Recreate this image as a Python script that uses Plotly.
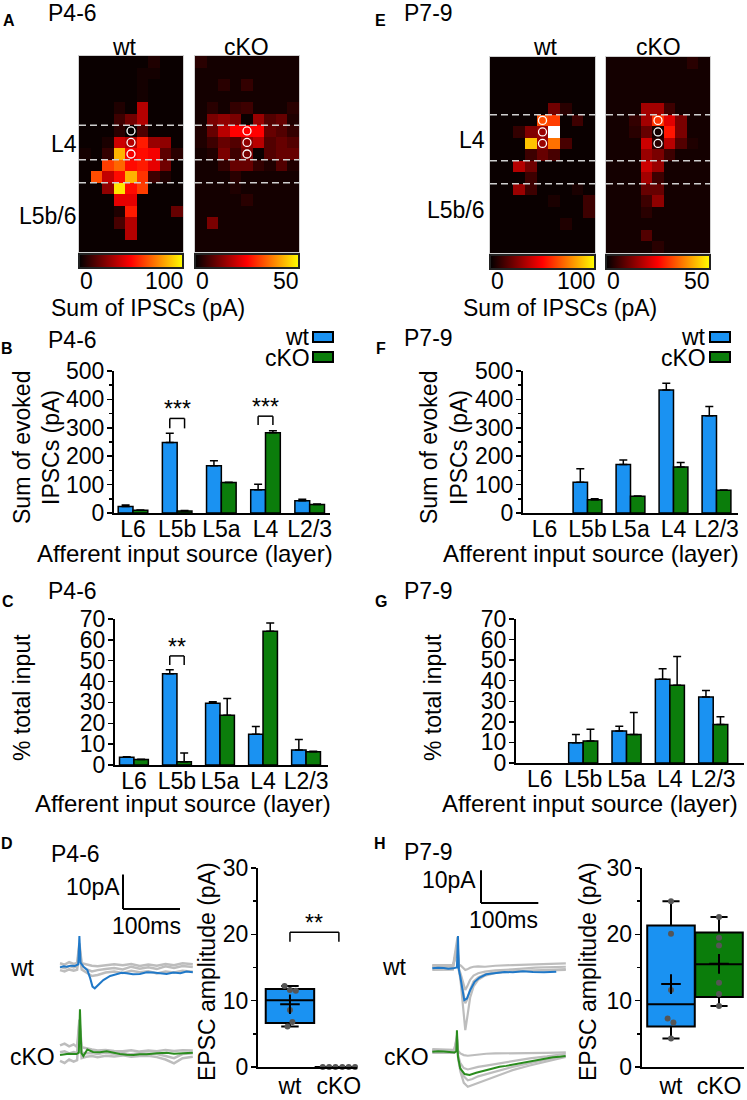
import plotly.graph_objects as go

W, H = 747, 1100
FONT = "Liberation Sans, Arial, Helvetica, sans-serif"
FS = 23
BLUE = "#1a92f2"
GREEN = "#0b7d0b"
TBLUE = "#1f78c8"
TGREEN = "#2a8c1e"
GRAY = "#bdbdbd"
DOT = "#555555"

# ---------------- data ----------------
layers = ["L6", "L5b", "L5a", "L4", "L2/3"]
groups = ["wt", "cKO"]

# heatmaps (17 rows x 9 columns), sum of IPSCs (pA)
hm_A_wt = [
    [2, 2, 2, 2, 2, 2, 6, 2, 2],
    [2, 2, 2, 2, 2, 4, 4, 2, 2],
    [2, 2, 2, 2, 2, 4, 2, 2, 2],
    [2, 2, 2, 2, 2, 4, 2, 2, 2],
    [2, 2, 2, 6, 2, 35, 2, 2, 2],
    [2, 2, 2, 12, 22, 35, 2, 2, 2],
    [2, 2, 2, 8, 1, 15, 2, 2, 2],
    [2, 2, 5, 40, 35, 55, 30, 28, 2],
    [4, 2, 10, 85, 48, 52, 48, 18, 8],
    [2, 2, 62, 70, 52, 55, 45, 22, 2],
    [2, 65, 38, 52, 85, 60, 12, 6, 2],
    [2, 2, 28, 95, 52, 62, 2, 2, 2],
    [2, 2, 2, 45, 45, 2, 2, 2, 2],
    [2, 2, 2, 6, 55, 2, 2, 2, 20],
    [2, 2, 2, 14, 35, 2, 2, 2, 2],
    [2, 2, 2, 2, 35, 2, 2, 2, 2],
    [2, 2, 2, 2, 2, 2, 2, 2, 2],
]
hm_A_ko = [
    [4, 2, 2, 2, 2, 2, 2, 2, 2],
    [2, 2, 2, 2, 2, 2, 2, 2, 2],
    [2, 2, 4, 2, 5, 2, 2, 2, 2],
    [2, 2, 2, 2, 2, 2, 2, 2, 2],
    [2, 4, 2, 5, 6, 2, 2, 2, 4],
    [2, 12, 14, 12, 1, 15, 8, 10, 3],
    [3, 10, 18, 25, 25, 25, 10, 8, 5],
    [3, 6, 10, 8, 14, 18, 8, 10, 8],
    [2, 3, 12, 6, 12, 1, 8, 10, 10],
    [2, 2, 5, 10, 10, 5, 3, 8, 3],
    [2, 2, 2, 4, 2, 2, 2, 2, 2],
    [2, 2, 2, 3, 2, 2, 2, 2, 2],
    [2, 2, 2, 2, 4, 2, 2, 2, 2],
    [2, 2, 2, 2, 2, 2, 2, 2, 2],
    [2, 12, 2, 2, 2, 2, 2, 2, 2],
    [2, 2, 2, 2, 2, 2, 2, 2, 2],
    [2, 2, 2, 2, 2, 2, 2, 2, 2],
]
hm_E_wt = [
    [2, 2, 2, 2, 2, 2, 2, 2, 2],
    [2, 2, 2, 2, 2, 2, 2, 2, 2],
    [2, 2, 2, 2, 2, 2, 2, 2, 2],
    [2, 2, 2, 2, 2, 2, 2, 2, 2],
    [2, 2, 2, 2, 2, 22, 8, 2, 2],
    [2, 2, 2, 2, 65, 62, 2, 12, 2],
    [2, 2, 10, 25, 30, 130, 2, 2, 2],
    [2, 2, 2, 88, 30, 72, 14, 2, 2],
    [2, 2, 2, 12, 20, 14, 2, 2, 2],
    [2, 2, 35, 22, 2, 2, 2, 2, 2],
    [2, 2, 2, 12, 2, 2, 2, 2, 2],
    [2, 2, 30, 12, 2, 2, 2, 5, 2],
    [2, 2, 2, 2, 2, 5, 2, 2, 12],
    [2, 2, 2, 2, 2, 2, 2, 2, 12],
    [2, 2, 2, 2, 2, 2, 6, 2, 2],
    [2, 2, 2, 2, 2, 2, 2, 2, 2],
    [2, 2, 2, 2, 2, 2, 2, 2, 2],
]
hm_E_ko = [
    [2, 2, 2, 2, 2, 2, 2, 4, 2],
    [2, 2, 2, 2, 2, 2, 2, 2, 2],
    [2, 2, 2, 2, 2, 2, 2, 2, 2],
    [2, 2, 2, 2, 2, 2, 2, 2, 2],
    [2, 2, 2, 16, 16, 6, 2, 2, 2],
    [2, 2, 5, 16, 30, 22, 12, 2, 2],
    [2, 2, 4, 10, 2, 27, 12, 2, 2],
    [2, 2, 2, 20, 4, 18, 8, 3, 2],
    [2, 2, 2, 15, 12, 6, 2, 2, 2],
    [2, 2, 2, 20, 15, 2, 2, 2, 2],
    [2, 2, 2, 16, 6, 2, 2, 2, 2],
    [2, 2, 2, 10, 10, 2, 2, 2, 2],
    [2, 2, 2, 6, 14, 2, 2, 2, 2],
    [2, 2, 2, 4, 2, 2, 2, 2, 2],
    [2, 2, 2, 2, 2, 2, 2, 2, 2],
    [2, 2, 2, 8, 2, 2, 2, 2, 2],
    [2, 2, 2, 2, 4, 2, 2, 2, 2],
]
hm_zmax = [100, 50, 100, 50]
stim_col = 4
stim_rows_A = [6, 7, 8]
stim_rows_E = [5, 6, 7]
layer_bounds_A = [5.5, 8.5, 10.5]
layer_bounds_E = [4.5, 8.5, 10.5]

# B / F: sum of evoked IPSCs (pA), mean and SEM
B_wt = [23, 248, 166, 82, 43]
B_wt_err = [5, 33, 18, 19, 5]
B_ko = [10, 7, 107, 283, 30]
B_ko_err = [1, 2, 1, 7, 2]
F_wt = [0, 108, 171, 433, 342]
F_wt_err = [0, 48, 16, 24, 33]
F_ko = [0, 47, 59, 162, 80]
F_ko_err = [0, 3, 1, 16, 1]
# C / G: % total input
C_wt = [3.7, 43.7, 29.6, 14.7, 7.2]
C_wt_err = [0.3, 2.0, 0.7, 3.7, 5.0]
C_ko = [2.6, 1.6, 23.9, 64.1, 6.4]
C_ko_err = [0.2, 4.2, 8.0, 4.0, 0.2]
G_wt = [0, 9.8, 15.6, 40.7, 32.1]
G_wt_err = [0, 4.0, 2.3, 5.1, 3.1]
G_ko = [0, 10.7, 13.8, 37.8, 18.7]
G_ko_err = [0, 5.7, 10.8, 14.0, 3.8]

# D / H: EPSC amplitudes (pA)
D_wt_pts = [12.2, 11.6, 11.5, 8.6, 6.8, 6.1]
D_ko_pts = [0, 0, 0, 0, 0, 0]
H_wt_pts = [25.0, 20.1, 11.6, 7.3, 6.7, 4.3]
H_ko_pts = [22.6, 19.5, 18.3, 12.7, 11.0, 9.2]

# example traces: time (ms), current (pA, relative to baseline)
D_t_wt = [0, 6, 12, 19, 26, 32, 34, 36, 41, 48, 53, 57, 61, 67, 76, 88, 99, 108, 117, 128, 140, 152, 164, 176, 187, 199, 211, 222, 233]
D_wt = [0, 0.3, 0.2, 0.5, 0.4, 0.9, 9.1, 1.4, 0.2, -0.8, -3.2, -5.6, -6.1, -5.1, -3.7, -2.5, -1.9, -1.6, -1.7, -2.0, -1.9, -1.4, -1.5, -1.8, -1.9, -1.5, -1.7, -1.2, -1.4]
D_t_ko = [0, 15, 29, 33, 35, 37.5, 41, 48, 58, 70, 82, 95, 105, 117, 129, 140, 152, 170, 187, 200, 211, 222, 233]
D_ko = [-0.3, 0.1, 0, 0.4, 13, 0.3, -0.6, 1.3, 0.6, 0.5, 0.8, 0.3, 0, -0.2, -0.3, -0.1, -0.1, 0.2, 0.4, 0.1, 0.2, 0.3, 0.4]
D_t_gray = [0, 8, 16, 24, 30, 34, 38, 46, 56, 66, 80, 95, 110, 125, 140, 155, 170, 185, 200, 215, 233]
D_wt_gray = [
    [1.2, 0.8, 1.5, 1.0, 1.3, 7.0, 1.2, 0.8, 0.5, 0.3, 0.5, 0.9, 0.6, 1.0, 0.4, 0.8, 0.5, 1.0, 0.6, 1.2, 0.9],
    [-0.8, -1.2, -0.6, -1.0, -0.7, 5.0, -0.6, -1.5, -2.5, -2.2, -1.5, -1.2, -1.6, -1.0, -1.4, -1.1, -1.8, -1.2, -1.5, -1.0, -1.3],
    [0.2, -0.2, 0.4, 0.0, 0.3, 6.0, 0.5, -0.5, -1.2, -0.8, -0.5, -0.2, -0.6, 0.2, -0.4, 0.0, -0.5, 0.3, -0.2, 0.4, 0.1],
]
D_ko_gray = [
    [2.5, 3.0, 2.2, 2.8, 2.0, 10.0, 2.0, 1.6, 1.3, 1.0, 1.2, 0.9, 0.8, 1.1, 0.7, 1.0, 0.8, 1.2, 0.9, 1.1, 1.0],
    [-2.0, -2.6, -1.6, -2.2, -1.8, 8.0, -1.2, -0.8, -0.6, -0.9, -0.5, -0.7, -0.4, -0.8, -0.6, -0.5, -0.9, -1.6, -2.7, -1.2, -0.8],
    [0.5, 0.8, 0.2, 0.6, 0.3, 9.0, 0.4, 0.2, 0.3, 0.0, 0.4, 0.1, 0.3, -0.1, 0.2, 0.1, 0.0, -0.6, -1.2, 0.0, 0.2],
]
H_t_wt = [0, 10, 20, 28, 36, 43, 44.8, 46.5, 48.8, 52.3, 55.8, 60.5, 66.3, 73.8, 82.6, 94.2, 111.6, 126, 140.7, 158, 175.6, 195, 216.3]
H_wt = [0, 0.2, 0.1, -0.1, 0, 0.3, 9.9, -0.5, -2.5, -6.6, -9.7, -9.2, -6.6, -4.1, -2.8, -1.8, -1.3, -1.1, -1.2, -0.9, -1.1, -1.2, -1.0]
H_t_ko = [0, 10, 20, 30, 39, 42, 43, 44.8, 48.8, 56.4, 65, 76.7, 94.2, 105, 117.4, 129, 140.7, 152, 164, 175, 187.2, 199, 210.5, 222, 232.6]
H_ko = [0, 0.2, 0.1, -0.1, -0.2, 0.2, 6.6, -1.5, -5.1, -6.8, -7.1, -6.4, -5.6, -5.2, -4.6, -4.3, -3.9, -3.6, -3.1, -2.7, -2.3, -2.0, -1.7, -1.5, -1.3]
H_t_gray_wt = [0, 36, 44, 46, 50, 54, 57.6, 61, 66, 72, 80, 92, 110, 140, 180, 233]
H_wt_gray = [
    [0.8, 0.6, 9.5, 0.5, -5.0, -13.0, -18.9, -15.0, -9.0, -5.5, -3.5, -2.2, -1.4, -0.9, -0.6, -0.2],
    [-0.5, -0.4, 8.0, -0.5, -3.0, -7.5, -10.7, -9.5, -6.5, -4.0, -2.8, -1.8, -1.2, -0.9, -0.8, -0.5],
    [0.3, 0.5, 7.0, 0.2, -2.0, -4.5, -6.6, -5.5, -3.5, -2.2, -1.5, -1.0, -0.6, -0.3, 0.2, 0.5],
    [1.0, 1.0, 5.0, 1.2, 0.8, 0.2, -0.5, -0.3, 0.2, 0.5, 0.6, 0.5, 0.8, 1.0, 1.2, 1.5],
]
H_t_gray_ko = [0, 38, 43, 45, 49, 55, 62, 70, 80, 94, 110, 140, 170, 200, 233]
H_ko_gray = [
    [0.8, 0.6, 4.0, 0.3, -0.5, -1.0, -1.2, -1.0, -0.8, -0.6, -0.5, -0.5, -0.4, -0.3, -0.2],
    [0.2, 0.0, 5.0, -2.0, -6.0, -9.5, -10.7, -10.2, -9.5, -8.7, -7.7, -5.6, -4.2, -3.0, -1.6],
    [-0.3, -0.3, 4.0, -1.5, -5.0, -7.5, -8.7, -8.3, -7.5, -6.8, -6.0, -4.6, -3.5, -2.5, -1.2],
    [0.5, 0.4, 3.0, -1.0, -3.5, -5.0, -5.4, -5.0, -4.6, -4.2, -3.7, -2.8, -2.0, -1.4, -0.6],
]
SCALE_PA = 10
SCALE_MS = 100

# point jitter (positions only)
D_wt_jit = [-0.11, 0.0, 0.12, 0.0, 0.05, -0.05]
D_ko_jit = [-0.33, -0.2, -0.07, 0.07, 0.2, 0.33]
H_wt_jit = [0, 0, 0, -0.07, 0.05, 0]
H_ko_jit = [0, 0, 0, 0, 0, 0]


# ---------------- helpers ----------------
def dx(a, b):
    return [a / W, b / W]


def dy(top, bot):
    return [1 - bot / H, 1 - top / H]


def ax(i):
    return ("x" if i == 1 else f"x{i}"), ("y" if i == 1 else f"y{i}")


def lk(i):
    return ("xaxis" if i == 1 else f"xaxis{i}"), ("yaxis" if i == 1 else f"yaxis{i}")


def quart(vals, p):
    s = sorted(vals)
    n = len(s)
    pos = p * (n + 1) - 1
    pos = min(max(pos, 0), n - 1)
    lo = int(pos)
    fr = pos - lo
    if lo + 1 < n:
        return s[lo] + fr * (s[lo + 1] - s[lo])
    return s[lo]


fig = go.Figure()
layout = {}
annotations = []
shapes = []


def T(text, x, y, size=FS, xa="center", ya="middle", bold=False, angle=0):
    if bold:
        text = f"<b>{text}</b>"
    annotations.append(dict(text=text, x=x / W, y=1 - y / H, xref="paper", yref="paper",
                            xanchor=xa, yanchor=ya, showarrow=False, textangle=angle,
                            borderpad=0,
                            font=dict(size=size, color="black", family=FONT)))


def L(x0, y0, x1, y1, xref="paper", yref="paper", color="black", width=2, dash=None):
    if xref == "paper":
        x0, x1 = x0 / W, x1 / W
    if yref == "paper":
        y0, y1 = 1 - y0 / H, 1 - y1 / H
    ln = dict(color=color, width=width)
    if dash:
        ln["dash"] = dash
    shapes.append(dict(type="line", x0=x0, y0=y0, x1=x1, y1=y1, xref=xref, yref=yref, line=ln))


def R(x0, y0, x1, y1, fill):
    shapes.append(dict(type="rect", x0=x0 / W, x1=x1 / W, y0=1 - y1 / H, y1=1 - y0 / H,
                       xref="paper", yref="paper", fillcolor=fill,
                       line=dict(color="black", width=2)))


# ---------------- heatmaps (A, E) ----------------
HOT = [[0, "#000000"], [0.5, "#ff0000"], [0.998, "#ffff00"], [1.0, "#ffffff"]]
hm_data = [hm_A_wt, hm_A_ko, hm_E_wt, hm_E_ko]
hm_pos = [(79, 183, 56, 252), (195, 299, 56, 252), (490, 595, 57, 253), (606, 710, 57, 253)]
stim_rows = [stim_rows_A, stim_rows_A, stim_rows_E, stim_rows_E]
bounds = [layer_bounds_A, layer_bounds_A, layer_bounds_E, layer_bounds_E]
for k in range(4):
    i = k + 1
    xa, ya = ax(i)
    xk, yk = lk(i)
    x0, x1, y0, y1 = hm_pos[k]
    fig.add_trace(go.Heatmap(
        z=hm_data[k], zmin=0, zmax=hm_zmax[k], colorscale=HOT, xaxis=xa, yaxis=ya,
        colorbar=dict(orientation="h", x=x0 / W, xanchor="left", y=1 - (y1 + 2) / H, yanchor="top",
                      len=(x1 - x0), lenmode="pixels", thickness=14, thicknessmode="pixels",
                      outlinewidth=2, outlinecolor="#222222", showticklabels=False, ticks="",
                      xpad=0, ypad=0),
        hoverinfo="skip"))
    fig.add_trace(go.Scatter(
        x=[stim_col] * len(stim_rows[k]), y=stim_rows[k], mode="markers", xaxis=xa, yaxis=ya,
        marker=dict(symbol="circle-open", size=8, color="white", line=dict(width=1.3, color="white")),
        hoverinfo="skip"))
    layout[xk] = dict(domain=dx(x0, x1), anchor=ya, range=[-0.5, 8.5], showticklabels=False, ticks="",
                      showgrid=False, zeroline=False, showline=True, mirror=True,
                      linecolor="#d0d0d0", linewidth=1)
    layout[yk] = dict(domain=dy(y0, y1), anchor=xa, range=[16.5, -0.5], showticklabels=False, ticks="",
                      showgrid=False, zeroline=False, showline=True, mirror=True,
                      linecolor="#d0d0d0", linewidth=1)
    for b in bounds[k]:
        L(-0.5, b, 8.5, b, xref=xa, yref=ya, color="#cfcfcf", width=1.5, dash="7px,4px")

T(groups[0], 124, 47)
T(groups[1], 246, 47)
T(groups[0], 545, 47)
T(groups[1], 658, 47)
T("L4", 78, 144, xa="right")
T("L5b/6", 78, 216, xa="right")
T("L4", 486, 140, xa="right")
T("L5b/6", 486, 210, xa="right")
for (xl, xr, zm) in [(79, 183, 100), (195, 299, 50), (490, 595, 100), (606, 710, 50)]:
    T("0", xl, 281, xa="left")
    T(str(zm), xr + 1, 281, xa="right")
T("Sum of IPSCs (pA)", 148, 308)
T("Sum of IPSCs (pA)", 560, 308)

# ---------------- bar charts (B, F, C, G) ----------------
bar_sets = [
    (5, B_wt, B_wt_err, B_ko, B_ko_err, (114, 330, 371, 513), [-0.43, 4.46], 500, 100, 50),
    (6, F_wt, F_wt_err, F_ko, F_ko_err, (523, 738, 371, 513), [-0.5, 4.5], 500, 100, 50),
    (7, C_wt, C_wt_err, C_ko, C_ko_err, (115, 328, 619, 765), [-0.44, 4.51], 70, 10, None),
    (8, G_wt, G_wt_err, G_ko, G_ko_err, (516, 744, 619, 763), [-0.55, 4.71], 70, 10, None),
]
for (i, wv, we, kv, ke, (x0, x1, y0, y1), xr, ymax, dt, mdt) in bar_sets:
    xa, ya = ax(i)
    xk, yk = lk(i)
    for vals, errs, col, nm in [(wv, we, BLUE, groups[0]), (kv, ke, GREEN, groups[1])]:
        shown = [v if v > 0 else None for v in vals]
        fig.add_trace(go.Bar(
            x=layers, y=shown, name=nm, xaxis=xa, yaxis=ya,
            marker=dict(color=col, line=dict(color="black", width=1.5)),
            error_y=dict(type="data", array=errs, arrayminus=[0] * len(errs), symmetric=False,
                         color="black", thickness=1.5, width=4),
            hoverinfo="skip"))
    layout[xk] = dict(domain=dx(x0, x1), anchor=ya, type="category", range=xr, showline=True,
                      linecolor="black", linewidth=2, ticks="", showgrid=False, zeroline=False,
                      tickfont=dict(size=FS), ticklabelstandoff=-6)
    yd = dict(domain=dy(y0, y1), anchor=xa, range=[0, ymax], showline=True, linecolor="black",
              linewidth=2, ticks="outside", ticklen=5, tickwidth=1.5, tickcolor="black",
              tickvals=list(range(0, ymax + 1, dt)), showgrid=False, zeroline=False,
              tickfont=dict(size=FS), ticklabelstandoff=-2)
    if mdt:
        yd["minor"] = dict(dtick=mdt, ticks="outside", ticklen=3, tickcolor="black", tickwidth=1.5)
    layout[yk] = yd

# axis titles / labels
T("Sum of evoked", 22, 448, angle=-90)
T("IPSCs (pA)", 51, 448, angle=-90)
T("Sum of evoked", 429, 448, angle=-90)
T("IPSCs (pA)", 459, 448, angle=-90)
T("% total input", 22, 698, angle=-90)
T("% total input", 433, 698, angle=-90)
T("Afferent input source (layer)", 185, 553, size=24)
T("Afferent input source (layer)", 591, 553, size=24)
T("Afferent input source (layer)", 183, 803, size=24)
T("Afferent input source (layer)", 590, 803, size=24)

# legends
for (tx, rx) in [(311, 313), (707, 710)]:
    T(groups[0], tx, 337, xa="right")
    R(rx, 332, rx + 20, 342, BLUE)
    T(groups[1], tx, 358, xa="right")
    R(rx, 352, rx + 20, 362, GREEN)

# significance brackets
half = (1 - 0.33) / 4
def bracket(i, idx, ytop, ybot, stars):
    xa, ya = ax(i)
    xl, xr_ = idx - half, idx + half
    L(xl, ybot, xl, ytop, xref=xa, yref=ya, width=1.5)
    L(xl, ytop, xr_, ytop, xref=xa, yref=ya, width=1.5)
    L(xr_, ytop, xr_, ybot, xref=xa, yref=ya, width=1.5)
    annotations.append(dict(text=stars, x=idx, y=ytop, xref=xa, yref=ya, yanchor="bottom",
                            showarrow=False, yshift=-6, font=dict(size=FS, family=FONT, color="black")))

bracket(5, layers.index("L5b"), 333, 298, "***")
bracket(5, layers.index("L4"), 341, 310, "***")
bracket(7, layers.index("L5b"), 52.3, 47.9, "**")

# ---------------- traces (D, H) ----------------
trace_axes = [
    (9, (55, 200, 865, 1000), [-8.8, 245.6], [-9.5, 29.8]),
    (10, (55, 200, 1000, 1075), [-8.8, 245.6], [-6.1, 15.7]),
    (12, (425, 575, 865, 1040), [-12.7, 249], [-21.9, 31.6]),
    (13, (425, 575, 1005, 1095), [-12.7, 249], [-13.2, 14.3]),
]
for (i, (x0, x1, y0, y1), xr, yr) in trace_axes:
    xa, ya = ax(i)
    xk, yk = lk(i)
    layout[xk] = dict(domain=dx(x0, x1), anchor=ya, range=xr, visible=False)
    layout[yk] = dict(domain=dy(y0, y1), anchor=xa, range=yr, visible=False)

def add_line(t, v, i, col, w):
    xa, ya = ax(i)
    fig.add_trace(go.Scatter(x=t, y=v, mode="lines", xaxis=xa, yaxis=ya,
                             line=dict(color=col, width=w), hoverinfo="skip"))

for g in D_wt_gray:
    add_line(D_t_gray, g, 9, GRAY, 2.5)
add_line(D_t_wt, D_wt, 9, TBLUE, 2)
for g in D_ko_gray:
    add_line(D_t_gray, g, 10, GRAY, 2.5)
add_line(D_t_ko, D_ko, 10, TGREEN, 2)
for g in H_wt_gray:
    add_line(H_t_gray_wt, g, 12, GRAY, 2.2)
add_line(H_t_wt, H_wt, 12, TBLUE, 2)
for g in H_ko_gray:
    add_line(H_t_gray_ko, g, 13, GRAY, 2.2)
add_line(H_t_ko, H_ko, 13, TGREEN, 2)

# scale bars
for (i, t0, v0) in [(9, 110.5, 17.0), (12, 85.0, 20.0)]:
    xa, ya = ax(i)
    L(t0, v0, t0, v0 + SCALE_PA, xref=xa, yref=ya, width=2)
    L(t0, v0, t0 + SCALE_MS, v0, xref=xa, yref=ya, width=2)
T(f"{SCALE_PA}pA", 121, 887, xa="right")
T(f"{SCALE_MS}ms", 146, 926)
T(f"{SCALE_PA}pA", 477, 880, xa="right")
T(f"{SCALE_MS}ms", 504, 920)
T(groups[0], 22, 968)
T(groups[1], 32, 1057)
T(groups[0], 394, 967)
T(groups[1], 406, 1057)

# ---------------- box plots (D, H) ----------------
box_sets = [
    (11, (258, 357), [-0.653, 1.37], [(D_wt_pts, D_wt_jit, BLUE), (D_ko_pts, D_ko_jit, GREEN)]),
    (14, (641.7, 744), [-0.61, 1.52], [(H_wt_pts, H_wt_jit, BLUE), (H_ko_pts, H_ko_jit, GREEN)]),
]
for (i, (x0, x1), xr, sets) in box_sets:
    xa, ya = ax(i)
    xk, yk = lk(i)
    for gi, (pts, jit, col) in enumerate(sets):
        fig.add_trace(go.Box(
            x=[gi], q1=[quart(pts, 0.25)], median=[quart(pts, 0.5)], q3=[quart(pts, 0.75)],
            lowerfence=[min(pts)], upperfence=[max(pts)], orientation="v", width=0.99,
            fillcolor=col, line=dict(color="black", width=2), whiskerwidth=0.36,
            boxpoints=False, xaxis=xa, yaxis=ya, hoverinfo="skip"))
        fig.add_trace(go.Scatter(
            x=[gi + j for j in jit], y=pts, mode="markers", xaxis=xa, yaxis=ya,
            marker=dict(color=DOT, size=6), hoverinfo="skip", cliponaxis=False))
        if max(pts) > 0:
            fig.add_trace(go.Scatter(
                x=[gi], y=[sum(pts) / len(pts)], mode="markers", xaxis=xa, yaxis=ya,
                marker=dict(symbol="cross-thin", size=14, line=dict(width=2, color="black")),
                hoverinfo="skip"))
    layout[xk] = dict(domain=dx(x0, x1), anchor=ya, range=xr, showline=True, linecolor="black",
                      linewidth=2, ticks="", tickvals=[0, 1], ticktext=groups, showgrid=False,
                      zeroline=False, tickfont=dict(size=FS), ticklabelstandoff=-3)
    layout[yk] = dict(domain=dy(868, 1067), anchor=xa, range=[0, 30], showline=True,
                      linecolor="black", linewidth=2, ticks="outside", ticklen=5, tickwidth=1.5,
                      tickcolor="black", tickvals=[0, 10, 20, 30], showgrid=False, zeroline=False,
                      tickfont=dict(size=FS), ticklabelstandoff=-2,
                      minor=dict(dtick=5, ticks="outside", ticklen=3, tickcolor="black", tickwidth=1.5))

T("EPSC amplitude (pA)", 207, 972, angle=-90)
T("EPSC amplitude (pA)", 588, 972, angle=-90)
L(0, 18.9, 0, 20.3, xref="x11", yref="y11", width=1.5)
L(0, 20.3, 1, 20.3, xref="x11", yref="y11", width=1.5)
L(1, 20.3, 1, 18.9, xref="x11", yref="y11", width=1.5)
annotations.append(dict(text="**", x=0.5, y=20.3, xref="x11", yref="y11", yanchor="bottom",
                        showarrow=False, yshift=-6, font=dict(size=FS, family=FONT, color="black")))

# ---------------- panel letters and age titles ----------------
for (lt, x, y) in [("A", 9, 21), ("E", 380, 21), ("B", 7, 348), ("F", 381, 348),
                   ("C", 8, 601), ("G", 381, 601), ("D", 7, 844), ("H", 380, 844)]:
    T(lt, x, y, size=16, bold=True)
for (tt, x, y) in [("P4-6", 72, 13), ("P7-9", 428, 13), ("P4-6", 72, 340), ("P7-9", 428, 338),
                   ("P4-6", 72, 591), ("P7-9", 428, 591), ("P4-6", 75, 854), ("P7-9", 428, 852)]:
    T(tt, x, y)

fig.update_layout(
    width=W, height=H, margin=dict(l=0, r=0, t=0, b=0, pad=0, autoexpand=False), autosize=False,
    paper_bgcolor="white", plot_bgcolor="rgba(0,0,0,0)", showlegend=False,
    barmode="group", bargap=0.33, bargroupgap=0, hovermode=False,
    font=dict(family=FONT, size=FS, color="black"),
    annotations=annotations, shapes=shapes, **layout)

fig.write_html("out.html", config={"displayModeBar": False, "staticPlot": True},
               post_script="document.body.style.margin='0';document.body.style.padding='0';"
                           "document.body.style.overflow='hidden';")
